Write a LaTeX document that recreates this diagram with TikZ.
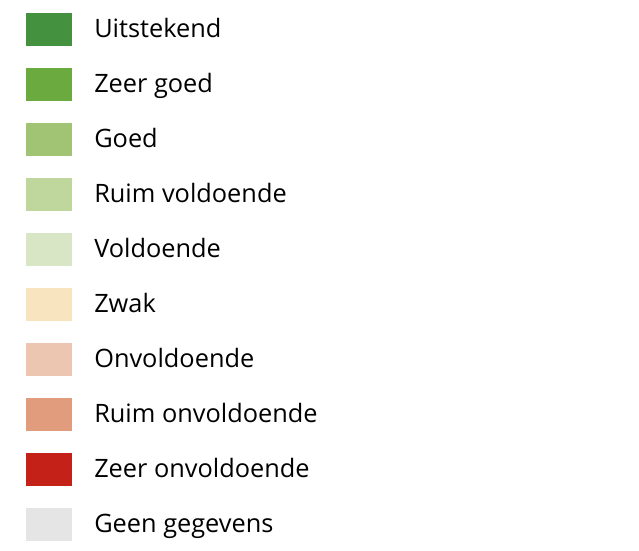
\documentclass[tikz,border=0pt]{standalone}
\usepackage{fontspec}
\setmainfont{Open Sans}
\usetikzlibrary{positioning}
\definecolor{uitst}{HTML}{44923F}
\definecolor{zgoed}{HTML}{6AAA3E}
\definecolor{goed}{HTML}{A0C473}
\definecolor{rvold}{HTML}{BFD69D}
\definecolor{vold}{HTML}{D9E6C6}
\definecolor{zwak}{HTML}{F8E5C0}
\definecolor{onvold}{HTML}{ECC6B0}
\definecolor{ronvold}{HTML}{E19C7D}
\definecolor{zonvold}{HTML}{C42119}
\definecolor{geen}{HTML}{E5E5E5}

\begin{document}
\begin{tikzpicture}[x=0.75pt,y=-0.75pt,
  swatch/.style={minimum width=34.5pt,minimum height=24.75pt,inner sep=0pt,outer sep=0pt},
  label/.style={anchor=base west,inner sep=0pt,font=\fontsize{19}{22}\selectfont}]
\useasboundingbox (0,0) rectangle (639,550);
\foreach \i/\c/\t in {0/uitst/Uitstekend,1/zgoed/Zeer goed,2/goed/Goed,3/rvold/Ruim voldoende,4/vold/Voldoende,5/zwak/Zwak,6/onvold/Onvoldoende,7/ronvold/Ruim onvoldoende,8/zonvold/Zeer onvoldoende,9/geen/Geen gegevens}
{
\node[swatch,fill=\c] (s\i) at (49,29.5+55*\i) {};
\node[label] (l\i) at (94,37.5+55*\i) {\t};
}
\end{tikzpicture}
\end{document}
